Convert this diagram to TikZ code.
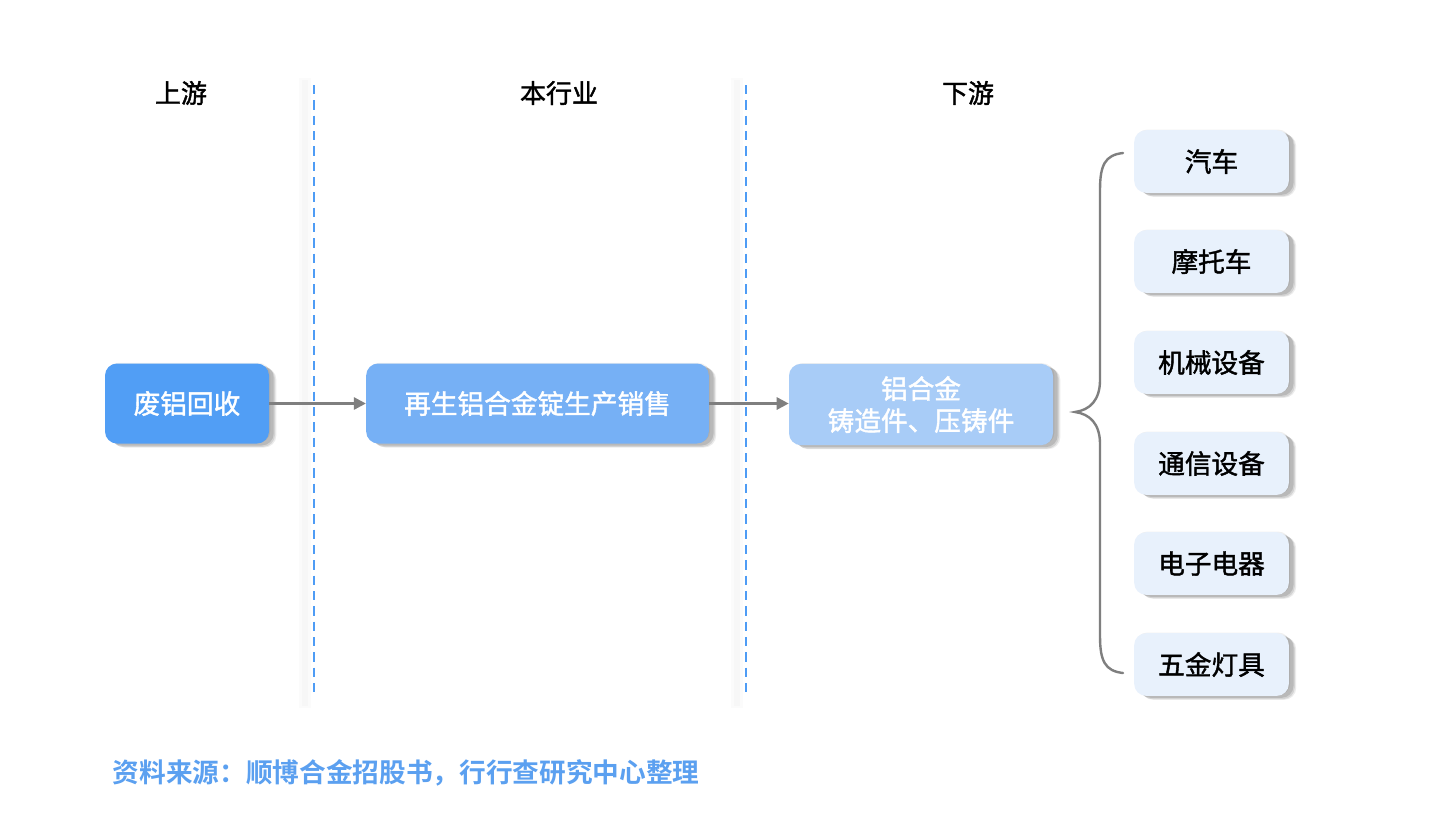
\documentclass[tikz,border=0pt]{standalone}
\usepackage{fontspec}
\setmainfont{Noto Sans CJK SC}
\newfontfamily\cjkmed[FakeBold=1.5]{Noto Sans CJK SC}
\newfontfamily\cjkbold[BoldFont={* Bold}]{Noto Sans CJK SC}
\usetikzlibrary{shadows,arrows.meta}
\definecolor{cA}{HTML}{519EF5}
\definecolor{cB}{HTML}{76B0F5}
\definecolor{cC}{HTML}{A8CCF7}
\definecolor{cD}{HTML}{E8F1FC}
\definecolor{dashblue}{HTML}{4E9CF5}
\definecolor{srcblue}{HTML}{5BA0F0}
\definecolor{arrgray}{HTML}{7F7F7F}
\tikzset{
  softshadow/.style={
    drop shadow={shadow xshift=1pt, shadow yshift=0.5pt, opacity=0.06, fill=black},
    drop shadow={shadow xshift=5.5pt, shadow yshift=-3pt, opacity=0.08, fill=black},
    drop shadow={shadow xshift=4.5pt, shadow yshift=-2.5pt, opacity=0.10, fill=black},
    drop shadow={shadow xshift=3.5pt, shadow yshift=-1.5pt, opacity=0.12, fill=black}},
  box/.style={rounded corners=9pt, inner sep=0pt, align=center,
    font=\cjkmed\fontsize{20pt}{24pt}\selectfont, softshadow},
  mainbox/.style={box, text=white},
  sidebox/.style={box, fill=cD, text=black, minimum width=116pt, minimum height=47pt},
  hdr/.style={font=\cjkmed\fontsize{19.5pt}{23pt}\selectfont, text=black},
  flow/.style={draw=arrgray, line width=2pt, -{Triangle[length=9pt,width=9pt]}},
  sep/.style={draw=dashblue, line width=1.5pt, dash pattern=on 7pt off 4.5pt},
  sepshadow/.style={draw=black, opacity=0.015, line width=#1},
}
\begin{document}
\begin{tikzpicture}[x=0.75pt,y=-0.75pt]
\useasboundingbox (0,0) rectangle (1430,836);
\fill[white] (0,0) rectangle (1430,836);
% separators
\coordinate (s1t) at (314,85); \coordinate (s1b) at (314,697);
\coordinate (s2t) at (746,85); \coordinate (s2b) at (746,697);
\foreach \xx in {305,737}{
  \draw[sepshadow=9pt] (\xx,78) -- (\xx,708);
  \draw[sepshadow=5pt] (\xx,80) -- (\xx,706);
}
\draw[sep] (s1t) -- (s1b);
\draw[sep] (s2t) -- (s2b);
% headers
\node[hdr] (h1) at (181,93) {上游};
\node[hdr] (h2) at (559,93) {本行业};
\node[hdr] (h3) at (968,93) {下游};
% main boxes
\node[mainbox, fill=cA, minimum width=123pt, minimum height=60pt] (n1) at (187,403.5) {废铝回收};
\node[mainbox, fill=cB, minimum width=257pt, minimum height=60pt] (n2) at (537.5,403.5) {再生铝合金锭生产销售};
\node[mainbox, fill=cC, minimum width=198pt, minimum height=61pt] (n3) at (921,404.5) {铝合金\\铸造件、压铸件};
\draw[flow] (n1.east) -- (n2.west);
\draw[flow] (n2.east) -- (n2.east -| n3.west);
% side boxes
\node[sidebox] (r1) at (1211.5,161.5) {汽车};
\node[sidebox] (r2) at (1211.5,261.5) {摩托车};
\node[sidebox] (r3) at (1211.5,362.5) {机械设备};
\node[sidebox] (r4) at (1211.5,463.5) {通信设备};
\node[sidebox] (r5) at (1211.5,563.5) {电子电器};
\node[sidebox] (r6) at (1211.5,664.5) {五金灯具};
% brace
\coordinate (bt) at (1123,153);
\coordinate (bm) at (1075,412);
\coordinate (bb) at (1123,673);
\draw[draw=arrgray, line width=1.8pt, line cap=round]
  (bt) .. controls (1105,155) and (1100,165) .. (1100,190)
  -- (1100,380) .. controls (1100,400) and (1090,410) .. (bm)
  .. controls (1090,414) and (1100,424) .. (1100,444)
  -- (1100,636) .. controls (1100,661) and (1105,671) .. (bb);
% source
\node[anchor=west, text=srcblue, font=\cjkbold\bfseries\fontsize{20pt}{24pt}\selectfont] (src) at (108,773) {资料来源：顺博合金招股书，行行查研究中心整理};
\end{tikzpicture}
\end{document}
